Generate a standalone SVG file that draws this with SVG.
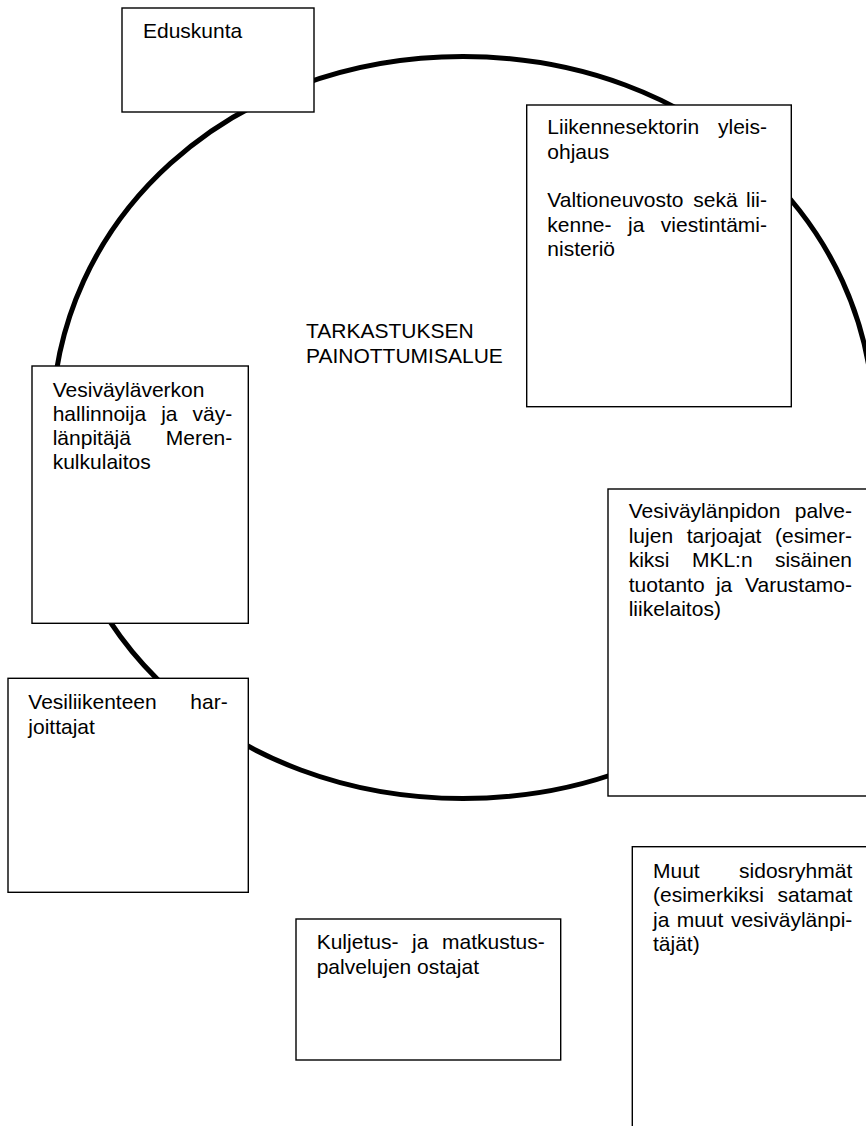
<svg xmlns="http://www.w3.org/2000/svg" width="866" height="1126" viewBox="0 0 866 1126">
<style>
.box{fill:#fff;stroke:#000;stroke-width:1.4}
.ring{fill:none;stroke:#000;stroke-width:5}
text{font-family:"Liberation Sans",Arial,sans-serif;font-size:21px;fill:#000}
.e{text-anchor:end}
</style>
<rect width="866" height="1126" fill="#fff"/>
<g id="connectors">
<path class="ring" d="M463 56.5 C695.2 56.5 874 217.9 874 427.5 C874 637.1 695.2 798.5 463 798.5 C230.8 798.5 52 637.1 52 427.5 C52 217.9 230.8 56.5 463 56.5 Z"/>
</g>
<g id="area-label">
<text x="306" y="338.3">TARKASTUKSEN</text>
<text x="306" y="362.7">PAINOTTUMISALUE</text>
</g>
<g id="eduskunta">
<rect class="box" x="122" y="8" width="192" height="104"/>
<text x="143" y="37.5">Eduskunta</text>
</g>
<g id="liikennesektori">
<rect class="box" x="526.7" y="105" width="264.6" height="301.7"/>
<text x="547.3" y="134.2">Liikennesektorin</text>
<text class="e" x="767" y="134.2">yleis-</text>
<text x="547.3" y="158.6">ohjaus</text>
<text x="547.3" y="207.4">Valtioneuvosto</text>
<text x="693.3" y="207.4">sekä</text>
<text class="e" x="767" y="207.4">lii-</text>
<text x="547.3" y="231.8">kenne-</text>
<text x="628" y="231.8">ja</text>
<text class="e" x="767" y="231.8">viestintämi-</text>
<text x="547.3" y="256.2">nisteriö</text>
</g>
<g id="merenkulkulaitos">
<rect class="box" x="32" y="366" width="216.3" height="257.3"/>
<text x="52.7" y="396.7">Vesiväyläverkon</text>
<text x="52.7" y="420.9">hallinnoija</text>
<text x="161.2" y="420.9">ja</text>
<text class="e" x="232.3" y="420.9">väy-</text>
<text x="52.7" y="445.1">länpitäjä</text>
<text class="e" x="232.3" y="445.1">Meren-</text>
<text x="52.7" y="469.3">kulkulaitos</text>
</g>
<g id="palveluntarjoajat">
<rect class="box" x="608" y="489" width="270" height="307"/>
<text x="628.7" y="518.3">Vesiväylänpidon</text>
<text class="e" x="852" y="518.3">palve-</text>
<text x="628.7" y="542.8">lujen</text>
<text x="686.7" y="542.8">tarjoajat</text>
<text class="e" x="852" y="542.8">(esimer-</text>
<text x="628.7" y="567.3">kiksi</text>
<text x="691.9" y="567.3">MKL:n</text>
<text class="e" x="852" y="567.3">sisäinen</text>
<text x="628.7" y="591.8">tuotanto</text>
<text x="715.9" y="591.8">ja</text>
<text class="e" x="852" y="591.8">Varustamo-</text>
<text x="628.7" y="616.3">liikelaitos)</text>
</g>
<g id="vesiliikenne">
<rect class="box" x="8" y="678.3" width="240.3" height="214"/>
<text x="28.3" y="709.3">Vesiliikenteen</text>
<text class="e" x="227.7" y="709.3">har-</text>
<text x="28.3" y="733.6">joittajat</text>
</g>
<g id="ostajat">
<rect class="box" x="296" y="919" width="264.7" height="141"/>
<text x="316.7" y="949.3">Kuljetus-</text>
<text x="412" y="949.3">ja</text>
<text class="e" x="544.7" y="949.3">matkustus-</text>
<text x="316.7" y="973.7">palvelujen ostajat</text>
</g>
<g id="sidosryhmat">
<rect class="box" x="632.3" y="846.7" width="250" height="300"/>
<text x="653" y="878">Muut</text>
<text class="e" x="852.3" y="878">sidosryhmät</text>
<text x="653" y="902.4">(esimerkiksi</text>
<text class="e" x="852.3" y="902.4">satamat</text>
<text x="653" y="926.8">ja</text>
<text x="676.7" y="926.8">muut</text>
<text class="e" x="852.3" y="926.8">vesiväylänpi-</text>
<text x="653" y="951.2">täjät)</text>
</g>
</svg>
